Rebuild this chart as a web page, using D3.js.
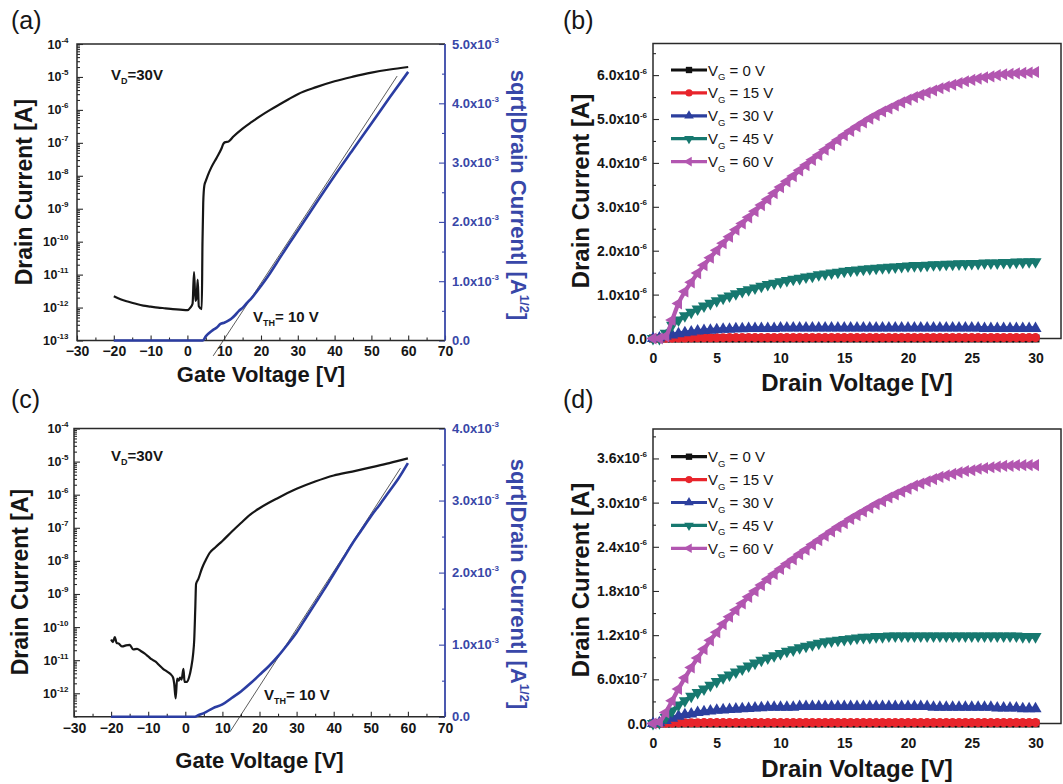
<!DOCTYPE html>
<html><head><meta charset="utf-8">
<script src="https://cdn.jsdelivr.net/npm/d3@7"></script>
<style>
body{margin:0;background:#fff}
svg{display:block;font-family:"Liberation Sans",Arial,Helvetica,sans-serif}
</style>
</head><body>
<svg id="chart" width="1063" height="784"></svg>
<script>
// ---------------- DATA ----------------
const gateTicks = [-30,-20,-10,0,10,20,30,40,50,60,70];
const gateMinor = [-25,-15,-5,5,15,25,35,45,55,65];

// (a) drain current [A] vs gate voltage [V]
const gateA = [-20,-18,-16,-14,-12,-10,-8,-6,-4,-2,0,0.8,1.4,1.8,2.2,2.5,2.8,3.1,3.9,4.1,4.3,4.6,5.0,5.5,6.5,8,9.2,9.8,10.3,11.2,12.5,15,17.5,20,22.5,25,27.5,30,35,40,45,50,55,60];
const idA = [2.2e-12,1.75e-12,1.5e-12,1.3e-12,1.15e-12,1.07e-12,1.0e-12,9.5e-13,9e-13,8.7e-13,8.3e-13,1.0e-12,1.3e-12,1.2e-11,1.6e-12,2e-12,7e-12,1.1e-12,9e-13,1e-10,1.5e-9,5e-9,7e-9,1e-8,1.8e-8,3.6e-8,6.5e-8,9.5e-8,1.05e-7,1.1e-7,1.55e-7,2.7e-7,4.3e-7,6.7e-7,1e-6,1.45e-6,2.1e-6,3e-6,4.9e-6,7.4e-6,1.02e-5,1.35e-5,1.68e-5,2e-5];
// (a) sqrt|Id| in units of 1e-3 A^1/2
const gateSqA = [-20,4.2,5,6,7,8,9,10,11,12,13,14,15,16,17.5,20,22.5,25,27.5,30,35,40,45,50,55,60];
const sqrtA = [0,0,0.07,0.13,0.18,0.22,0.28,0.3,0.33,0.37,0.43,0.5,0.55,0.62,0.72,0.92,1.14,1.38,1.62,1.85,2.32,2.78,3.22,3.66,4.1,4.53];
const fitAx = [7.0,57];
const fitAy = [-0.26,4.46];

// (c)
const gateC = [-20,-19.5,-19,-18.5,-18,-17,-16,-15,-14,-13,-12,-11,-10,-9,-8,-7,-6,-5,-4,-3.3,-3.0,-2.6,-2.2,-1.8,-1.4,-1.0,-0.5,-0.2,0.4,1.0,1.6,2.1,2.4,2.7,2.9,3.5,4.5,5.5,6.5,8,10,12.5,15,17.5,20,25,30,35,40,45,50,55,60];
const idC = [4.2e-11,3.5e-11,5e-11,3.3e-11,3.2e-11,2.6e-11,2.8e-11,2.9e-11,2.1e-11,2.2e-11,1.9e-11,1.6e-11,1.3e-11,1.05e-11,9e-12,7e-12,5.5e-12,4.6e-12,3.8e-12,3e-12,2e-12,7e-13,2.8e-12,2.4e-12,3e-12,2.6e-12,5.5e-12,2.2e-12,2.2e-12,3e-12,6e-12,1.5e-11,4e-11,4e-10,2e-9,2.8e-9,6e-9,1.05e-8,1.7e-8,2.5e-8,4e-8,7.6e-8,1.4e-7,2.5e-7,3.9e-7,8e-7,1.5e-6,2.5e-6,3.8e-6,5e-6,6.7e-6,9e-6,1.25e-5];
const gateSqC = [-20,2.6,3.5,5,7.5,10,12.5,15,17.5,20,22.5,25,27.5,30,32.5,35,37.5,40,42.5,45,47.5,50,52.5,55,57.5,60];
const sqrtC = [0,0,0.02,0.05,0.12,0.17,0.26,0.35,0.46,0.58,0.7,0.84,1.0,1.17,1.37,1.57,1.77,1.98,2.19,2.4,2.59,2.78,2.95,3.13,3.31,3.52];
const fitCx = [12.05,58];
const fitCy = [-0.21,3.45];

// Output curves: drain voltage [V], drain current in µA
const drainV = [0,0.5,1,1.5,2,2.5,3,3.5,4,4.5,
  5,5.5,6,6.5,7,7.5,8,8.5,9,9.5,
  10,10.5,11,11.5,12,12.5,13,13.5,14,14.5,
  15,15.5,16,16.5,17,17.5,18,18.5,19,19.5,
  20,20.5,21,21.5,22,22.5,23,23.5,24,24.5,
  25,25.5,26,26.5,27,27.5,28,28.5,29,29.5,
  30];
const drainTicks = [0,5,10,15,20,25,30];
const drainMinor = [2.5,7.5,12.5,17.5,22.5,27.5];
const legendLabels = ["0","15","30","45","60"];

const idB0 = [0,0,0,0,0,0,0,0,0,0,
  0,0,0,0,0,0,0,0,0,0,
  0,0,0,0,0,0,0,0,0,0,
  0,0,0,0,0,0,0,0,0,0,
  0,0,0,0,0,0,0,0,0,0,
  0,0,0,0,0,0,0,0,0,0,
  0];
const idB15 = [0,0,0.005,0.008,0.01,0.012,0.013,0.015,0.016,0.017,
  0.018,0.019,0.02,0.02,0.02,0.02,0.02,0.02,0.02,0.02,
  0.02,0.02,0.02,0.02,0.02,0.02,0.02,0.02,0.02,0.02,
  0.02,0.02,0.02,0.02,0.02,0.02,0.02,0.02,0.02,0.02,
  0.02,0.02,0.02,0.02,0.02,0.02,0.02,0.02,0.02,0.02,
  0.02,0.02,0.02,0.02,0.02,0.02,0.02,0.02,0.02,0.02,
  0.02];
const idB30 = [0,0.01,0.05,0.08,0.11,0.13,0.15,0.17,0.18,0.19,
  0.2,0.21,0.21,0.22,0.22,0.23,0.23,0.23,0.23,0.23,
  0.24,0.24,0.24,0.24,0.24,0.24,0.24,0.24,0.24,0.24,
  0.24,0.24,0.24,0.24,0.24,0.24,0.24,0.24,0.24,0.24,
  0.24,0.24,0.24,0.24,0.24,0.24,0.24,0.24,0.24,0.24,
  0.24,0.24,0.23,0.23,0.23,0.23,0.23,0.23,0.23,0.23,
  0.23];
const idB45 = [0,0,0.12,0.3,0.42,0.52,0.6,0.67,0.74,0.8,
  0.86,0.92,0.97,1.02,1.07,1.11,1.15,1.19,1.23,1.26,
  1.29,1.32,1.35,1.37,1.4,1.42,1.45,1.47,1.49,1.51,
  1.53,1.55,1.56,1.58,1.59,1.6,1.61,1.62,1.63,1.64,
  1.65,1.66,1.66,1.67,1.68,1.68,1.69,1.69,1.7,1.7,
  1.71,1.71,1.72,1.72,1.72,1.73,1.73,1.74,1.74,1.75,
  1.75];
const idB60 = [0,0,0.05,0.42,0.8,1.07,1.28,1.49,1.67,1.84,
  2.01,2.17,2.32,2.48,2.62,2.76,2.9,3.04,3.17,3.31,
  3.45,3.58,3.7,3.83,3.95,4.07,4.18,4.3,4.41,4.52,
  4.63,4.73,4.83,4.92,5.01,5.09,5.17,5.24,5.31,5.38,
  5.44,5.5,5.55,5.6,5.65,5.7,5.74,5.78,5.82,5.86,
  5.89,5.92,5.95,5.97,6.0,6.02,6.03,6.04,6.05,6.06,
  6.07];
const idBTicks = [0,1,2,3,4,5,6];
const idBTickText = [["0.0",""],["1.0x10","-6"],["2.0x10","-6"],["3.0x10","-6"],["4.0x10","-6"],["5.0x10","-6"],["6.0x10","-6"]];

const idD0 = [0,0,0,0,0,0,0,0,0,0,
  0,0,0,0,0,0,0,0,0,0,
  0,0,0,0,0,0,0,0,0,0,
  0,0,0,0,0,0,0,0,0,0,
  0,0,0,0,0,0,0,0,0,0,
  0,0,0,0,0,0,0,0,0,0,
  0];
const idD15 = [0,0,0.003,0.005,0.008,0.009,0.01,0.011,0.012,0.012,
  0.012,0.012,0.012,0.012,0.012,0.012,0.012,0.012,0.012,0.012,
  0.012,0.012,0.012,0.012,0.012,0.012,0.012,0.012,0.012,0.012,
  0.012,0.012,0.012,0.012,0.012,0.012,0.012,0.012,0.012,0.012,
  0.012,0.012,0.012,0.012,0.012,0.012,0.012,0.012,0.012,0.012,
  0.012,0.012,0.012,0.012,0.012,0.012,0.012,0.012,0.012,0.012,
  0.012];
const idD30 = [0,0.01,0.04,0.07,0.1,0.12,0.13,0.15,0.16,0.17,
  0.18,0.185,0.19,0.195,0.2,0.205,0.21,0.215,0.22,0.22,
  0.22,0.22,0.22,0.23,0.23,0.23,0.23,0.23,0.23,0.23,
  0.23,0.23,0.23,0.23,0.23,0.23,0.23,0.23,0.23,0.23,
  0.23,0.23,0.23,0.23,0.22,0.22,0.22,0.22,0.22,0.22,
  0.22,0.22,0.22,0.22,0.21,0.21,0.21,0.21,0.2,0.2,
  0.2];
const idD45 = [0,0.01,0.08,0.17,0.25,0.31,0.37,0.42,0.47,0.52,
  0.57,0.62,0.66,0.7,0.74,0.78,0.82,0.86,0.89,0.92,
  0.95,0.98,1.0,1.03,1.05,1.07,1.09,1.11,1.12,1.13,
  1.14,1.15,1.16,1.17,1.17,1.18,1.18,1.19,1.19,1.19,
  1.19,1.19,1.19,1.19,1.19,1.19,1.19,1.19,1.19,1.19,
  1.19,1.19,1.19,1.19,1.19,1.19,1.19,1.19,1.18,1.18,
  1.18];
const idD60 = [0,0.02,0.15,0.31,0.47,0.62,0.76,0.89,1.01,1.13,
  1.24,1.35,1.45,1.54,1.63,1.72,1.8,1.88,1.96,2.03,
  2.1,2.17,2.23,2.3,2.36,2.43,2.49,2.55,2.61,2.67,
  2.72,2.78,2.83,2.88,2.93,2.98,3.02,3.07,3.11,3.15,
  3.19,3.23,3.26,3.29,3.32,3.35,3.37,3.39,3.41,3.43,
  3.44,3.46,3.47,3.48,3.49,3.5,3.5,3.51,3.51,3.51,
  3.51];
const idDTicks = [0,0.6,1.2,1.8,2.4,3.0,3.6];
const idDTickText = [["0.0",""],["6.0x10","-7"],["1.2x10","-6"],["1.8x10","-6"],["2.4x10","-6"],["3.0x10","-6"],["3.6x10","-6"]];

// ---------------- DRAWING ----------------
const svg = d3.select("#chart");
const INK = "#161616";
const FRAME = "#2a2a2a";
const BLUE_AX = "#3847a8";
const BLUE_D = "#2b3da2";
const seriesColors = ["#111111","#e8242b","#2c3f9e","#16786f","#b256b0"];
const symbols = [
  {t:d3.symbolSquare, r:0},
  {t:d3.symbolCircle, r:0},
  {t:d3.symbolTriangle, r:0},
  {t:d3.symbolTriangle, r:180},
  {t:d3.symbolTriangle, r:-90}
];

function supText(g, x, y, base, sup, o){
  const t = g.append("text").attr("x",x).attr("y",y)
    .attr("text-anchor",o.anchor||"start")
    .attr("font-size",o.size).attr("font-weight",o.weight||"bold")
    .attr("fill",o.color||INK);
  t.append("tspan").text(base);
  if (sup) t.append("tspan").attr("font-size",o.supSize).attr("dy",o.supDy).text(sup);
  return t;
}

function styleAxis(sel, color){
  sel.select(".domain").remove();
  sel.selectAll("line").attr("stroke",color).attr("stroke-width",1.1);
}

function panelLetter(x,y,s){
  svg.append("text").attr("x",x).attr("y",y).attr("font-size",25).attr("fill",INK).text(s);
}

function transferPanel(o){
  const g = svg.append("g");
  const x = d3.scaleLinear().domain([-30,70]).range([o.L,o.R]);
  const y = d3.scaleLog().domain(o.logDomain).range([o.B,o.T]);
  const y2 = d3.scaleLinear().domain([0,o.sqMax]).range([o.B,o.T]);

  const bx = g.append("g").attr("transform",`translate(0,${o.B})`)
    .call(d3.axisBottom(x).tickValues(gateTicks).tickSizeInner(-5).tickSizeOuter(0).tickPadding(6));
  styleAxis(bx, FRAME);
  bx.selectAll("text").attr("font-size",14).attr("font-weight","bold").attr("fill",INK).attr("font-family",null);
  const bxm = g.append("g").attr("transform",`translate(0,${o.B})`)
    .call(d3.axisBottom(x).tickValues(gateMinor).tickSizeInner(-3).tickSizeOuter(0).tickFormat(""));
  styleAxis(bxm, FRAME);

  const majors = o.decades.map(e => Math.pow(10,e));
  const minors = [];
  o.decades.concat([o.decades[0]-1]).forEach(e => {
    for (let k=2;k<=9;k++){ const v=k*Math.pow(10,e); if (v>=o.logDomain[0]*0.999 && v<=o.logDomain[1]) minors.push(v); }
  });
  const ly = g.append("g").attr("transform",`translate(${o.L},0)`)
    .call(d3.axisLeft(y).tickValues(majors).tickSizeInner(-6).tickSizeOuter(0).tickFormat(""));
  styleAxis(ly, FRAME);
  const lym = g.append("g").attr("transform",`translate(${o.L},0)`)
    .call(d3.axisLeft(y).tickValues(minors).tickSizeInner(-3).tickSizeOuter(0).tickFormat(""));
  styleAxis(lym, FRAME);
  o.decades.forEach(e => {
    supText(g, 68.5, y(Math.pow(10,e))+4.5, "10", String(e), {anchor:"end",size:12.5,supSize:8,supDy:-6});
  });

  const sqMajors = d3.range(0,o.sqMax+0.001,1);
  const sqMinors = d3.range(0.5,o.sqMax,1);
  const ry = g.append("g").attr("transform",`translate(${o.R},0)`)
    .call(d3.axisRight(y2).tickValues(sqMajors).tickSizeInner(-6).tickSizeOuter(0).tickFormat(""));
  styleAxis(ry, BLUE_AX);
  const rym = g.append("g").attr("transform",`translate(${o.R},0)`)
    .call(d3.axisRight(y2).tickValues(sqMinors).tickSizeInner(-3).tickSizeOuter(0).tickFormat(""));
  styleAxis(rym, BLUE_AX);
  sqMajors.forEach(v => {
    if (v===0) supText(g, o.R+7, y2(v)+4.5, "0.0", "", {size:13,color:BLUE_AX});
    else supText(g, o.R+7, y2(v)+4.5, v.toFixed(1)+"x10", "-3", {size:13,supSize:8,supDy:-6,color:BLUE_AX});
  });

  g.append("path").attr("d",`M${o.R},${o.T}H${o.L}V${o.B}H${o.R}`).attr("fill","none").attr("stroke",FRAME).attr("stroke-width",1.5);
  g.append("line").attr("x1",o.R).attr("x2",o.R).attr("y1",o.T).attr("y2",o.B).attr("stroke",BLUE_AX).attr("stroke-width",1.8);

  g.append("line").attr("x1",x(o.fitX[0])).attr("y1",y2(o.fitY[0])).attr("x2",x(o.fitX[1])).attr("y2",y2(o.fitY[1]))
    .attr("stroke","#333").attr("stroke-width",0.8);

  g.append("path").datum(d3.range(o.gSq.length))
    .attr("d", d3.line().x(i=>x(o.gSq[i])).y(i=>y2(o.sq[i])).curve(d3.curveMonotoneX))
    .attr("fill","none").attr("stroke",BLUE_D).attr("stroke-width",2.6).attr("stroke-linejoin","round");

  g.append("path").datum(d3.range(o.gId.length))
    .attr("d", d3.line().x(i=>x(o.gId[i])).y(i=>y(o.id[i])).curve(d3.curveMonotoneX))
    .attr("fill","none").attr("stroke",INK).attr("stroke-width",2.2).attr("stroke-linejoin","round");

  g.append("text").attr("x",(o.L+o.R)/2).attr("y",o.xTitleY).attr("text-anchor","middle")
    .attr("font-size",22).attr("font-weight","bold").attr("fill",INK).text("Gate Voltage [V]");
  g.append("text").attr("transform",`translate(${o.yTitleX},${o.yTitleY}) rotate(-90)`).attr("text-anchor","middle")
    .attr("font-size",23).attr("font-weight","bold").attr("fill",INK).text("Drain Current [A]");
  const rt = g.append("text").attr("transform",`translate(${o.rTitleX},${o.rTitleY}) rotate(90)`).attr("text-anchor","middle")
    .attr("font-size",22).attr("font-weight","bold").attr("fill",BLUE_AX);
  rt.append("tspan").text("sqrt|Drain Current| [A");
  rt.append("tspan").attr("font-size",13).attr("dy",-9).text("1/2");
  rt.append("tspan").attr("dy",9).text("]");

  const vd = g.append("text").attr("x",o.vdX).attr("y",o.vdY).attr("font-size",15).attr("font-weight","bold").attr("fill",INK);
  vd.append("tspan").text("V");
  vd.append("tspan").attr("font-size",9).attr("dy",4).text("D");
  vd.append("tspan").attr("dy",-4).text("=30V");
  const vt = g.append("text").attr("x",o.vtX).attr("y",o.vtY).attr("font-size",15).attr("font-weight","bold").attr("fill",INK);
  vt.append("tspan").text("V");
  vt.append("tspan").attr("font-size",9).attr("dy",4).text("TH");
  vt.append("tspan").attr("dy",-4).text("= 10 V");
}

function outputPanel(o){
  const g = svg.append("g");
  const x = d3.scaleLinear().domain([0,32]).range([o.L,o.R]);
  const y = d3.scaleLinear().domain([0,o.yMax]).range([o.B,o.T]);

  const bx = g.append("g").attr("transform",`translate(0,${o.B})`)
    .call(d3.axisBottom(x).tickValues(drainTicks).tickSizeInner(-5).tickSizeOuter(0).tickPadding(15));
  styleAxis(bx, FRAME);
  bx.selectAll("text").attr("font-size",14).attr("font-weight","bold").attr("fill",INK).attr("font-family",null);
  const bxm = g.append("g").attr("transform",`translate(0,${o.B})`)
    .call(d3.axisBottom(x).tickValues(drainMinor).tickSizeInner(-3).tickSizeOuter(0).tickFormat(""));
  styleAxis(bxm, FRAME);

  const ly = g.append("g").attr("transform",`translate(${o.L},0)`)
    .call(d3.axisLeft(y).tickValues(o.yTicks).tickSizeInner(-6).tickSizeOuter(0).tickFormat(""));
  styleAxis(ly, FRAME);
  const lym = g.append("g").attr("transform",`translate(${o.L},0)`)
    .call(d3.axisLeft(y).tickValues(o.yMinor).tickSizeInner(-3).tickSizeOuter(0).tickFormat(""));
  styleAxis(lym, FRAME);
  o.yTicks.forEach((v,i) => {
    supText(g, 647, y(v)+5, o.yText[i][0], o.yText[i][1], {anchor:"end",size:14,supSize:8,supDy:-6.5});
  });

  g.append("rect").attr("x",o.L).attr("y",o.T).attr("width",o.R-o.L).attr("height",o.B-o.T)
    .attr("fill","none").attr("stroke",FRAME).attr("stroke-width",1.5);

  o.series.forEach((s,k) => {
    const idx = d3.range(s.length);
    g.append("path").datum(idx)
      .attr("d", d3.line().x(i=>x(drainV[i])).y(i=>y(s[i])).curve(d3.curveMonotoneX))
      .attr("fill","none").attr("stroke",seriesColors[k]).attr("stroke-width",4.2);
    g.selectAll(null).data(idx).enter().append("path")
      .attr("d", d3.symbol().type(symbols[k].t).size(64))
      .attr("transform", i => `translate(${x(drainV[i])},${y(s[i])}) rotate(${symbols[k].r})`)
      .attr("fill",seriesColors[k]);
  });

  legendLabels.forEach((lab,k) => {
    const cy = o.legY0 + k*22.9;
    g.append("line").attr("x1",671).attr("x2",707).attr("y1",cy).attr("y2",cy)
      .attr("stroke",seriesColors[k]).attr("stroke-width",3.2);
    g.append("path").attr("d", d3.symbol().type(symbols[k].t).size(40))
      .attr("transform",`translate(689,${cy}) rotate(${symbols[k].r})`).attr("fill",seriesColors[k]);
    const t = g.append("text").attr("x",708).attr("y",cy+5.5).attr("font-size",15).attr("fill",INK);
    t.append("tspan").text("V");
    t.append("tspan").attr("font-size",9.5).attr("dy",4.5).text("G");
    t.append("tspan").attr("dy",-4.5).text(" = " + lab + " V");
  });

  g.append("text").attr("x",(o.L+o.R)/2).attr("y",o.xTitleY).attr("text-anchor","middle")
    .attr("font-size",24).attr("font-weight","bold").attr("fill",INK).text("Drain Voltage [V]");
  g.append("text").attr("transform",`translate(${o.yTitleX},${o.yTitleY}) rotate(-90)`).attr("text-anchor","middle")
    .attr("font-size",24).attr("font-weight","bold").attr("fill",INK).text("Drain Current [A]");
}

transferPanel({L:77,R:445,T:44,B:340.5,logDomain:[1e-13,1e-4],decades:[-13,-12,-11,-10,-9,-8,-7,-6,-5,-4],
  sqMax:5,gId:gateA,id:idA,gSq:gateSqA,sq:sqrtA,fitX:fitAx,fitY:fitAy,
  xTitleY:381.5,yTitleX:32,yTitleY:192,rTitleX:511,rTitleY:195,vdX:111,vdY:80,vtX:253,vtY:322});

transferPanel({L:74,R:445,T:428.5,B:716.7,logDomain:[1.96e-13,1e-4],decades:[-12,-11,-10,-9,-8,-7,-6,-5,-4],
  sqMax:4,gId:gateC,id:idC,gSq:gateSqC,sq:sqrtC,fitX:fitCx,fitY:fitCy,
  xTitleY:768,yTitleX:28,yTitleY:582,rTitleX:511,rTitleY:584,vdX:111,vdY:461,vtX:264,vtY:700});

outputPanel({L:653,R:1061,T:43.5,B:338.5,yMax:6.72,yTicks:idBTicks,yText:idBTickText,
  yMinor:[0.5,1.5,2.5,3.5,4.5,5.5,6.5],series:[idB0,idB15,idB30,idB45,idB60],
  legY0:70,xTitleY:391,yTitleX:589,yTitleY:191});

outputPanel({L:653,R:1061,T:429,B:723.5,yMax:4.0,yTicks:idDTicks,yText:idDTickText,
  yMinor:[0.3,0.9,1.5,2.1,2.7,3.3,3.9],series:[idD0,idD15,idD30,idD45,idD60],
  legY0:456.7,xTitleY:777,yTitleX:589,yTitleY:580});

panelLetter(11,29,"(a)");
panelLetter(563,29,"(b)");
panelLetter(11,408,"(c)");
panelLetter(563,408,"(d)");
</script>
</body></html>
